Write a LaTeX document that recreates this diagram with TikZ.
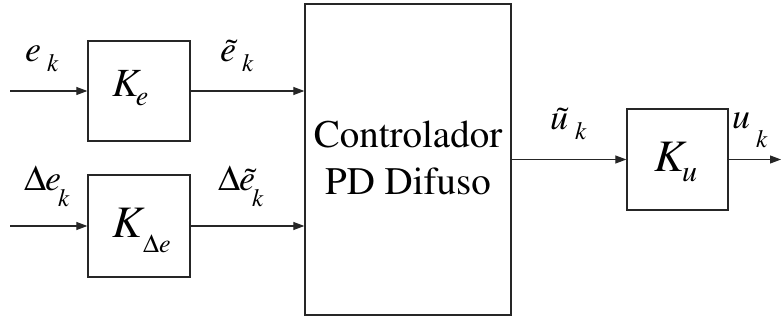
\documentclass[tikz,border=0pt]{standalone}
\usepackage[T1]{fontenc}
\usepackage{mathptmx}
\usetikzlibrary{arrows.meta}
\newcommand\bigt[1]{{\fontsize{36}{36}\selectfont #1}}
\newcommand\smt[1]{{\fontsize{25}{25}\selectfont #1}}
\newcommand\mydelta{\ensuremath{\Delta}}
\begin{document}
\begin{tikzpicture}[x=1pt,y=-1pt,
  blk/.style={draw=black!85, line width=1.3pt, fill=white, inner sep=0pt},
  sig/.style={line width=1.1pt, draw=black!85, -{Triangle[length=11pt,width=8pt]}},
  lbl/.style={anchor=base west, inner sep=0pt, font=\itshape}]
\useasboundingbox (0,0) rectangle (782,320);
\node[blk, minimum width=102pt, minimum height=100pt] (ke) at (139,91) {};
\node[blk, minimum width=102pt, minimum height=102pt] (kde) at (139,226) {};
\node[blk, minimum width=206pt, minimum height=311pt] (ctrl) at (408,159.5) {};
\node[blk, minimum width=101pt, minimum height=101pt] (ku) at (677.5,159.5) {};

\coordinate (in1) at (10,91);
\coordinate (in2) at (10,226);
\coordinate (out) at (781,159.5);

\draw[sig] (in1) -- (ke.west);
\draw[sig] (in2) -- (kde.west);
\draw[sig] (ke.east) -- (ke.east -| ctrl.west);
\draw[sig] (kde.east) -- (kde.east -| ctrl.west);
\draw[sig] (ctrl.east) -- (ku.west);
\draw[sig] (ku.east) -- (out);

% labels
\node[lbl] (lek) at (25,62) {\bigt{e}\hspace{6pt}\raisebox{-10pt}{\smt{k}}};
\node[lbl] (ltek) at (220,62) {\bigt{\~{e}}\hspace{6pt}\raisebox{-10pt}{\smt{k}}};
\node[lbl] (ldek) at (24,191) {\bigt{\mydelta}\kern-1pt\bigt{e}\kern-3pt\raisebox{-16pt}{\smt{k}}};
\node[lbl] (ldtek) at (218,191) {\bigt{\mydelta}\kern-1pt\bigt{\~{e}}\kern-3pt\raisebox{-16pt}{\smt{k}}};
\node[lbl] (ltuk) at (550,130) {\bigt{\~{u}}\hspace{7pt}\raisebox{-10pt}{\smt{k}}};
\node[lbl] (luk) at (732,129) {\bigt{u}\hspace{6pt}\raisebox{-19pt}{\smt{k}}};

\node[lbl] (lke) at (112,97) {{\fontsize{40}{40}\selectfont K}\kern-3pt\raisebox{-9pt}{\fontsize{28}{28}\selectfont e}};
\node[lbl] (lkde) at (112,238) {{\fontsize{45}{45}\selectfont K}\hspace{1pt}\raisebox{-15pt}{\fontsize{26}{26}\selectfont \mydelta e}};
\node[lbl] (lku) at (654,172) {{\fontsize{45}{45}\selectfont K}\kern-2pt\raisebox{-10pt}{\fontsize{30}{30}\selectfont u}};

\node[anchor=base, inner sep=0pt, font=\fontsize{39}{39}\selectfont] (c1) at (408,148) {Controlador};
\node[anchor=base, inner sep=0pt, font=\fontsize{39}{39}\selectfont] (c2) at (408,195) {PD Difuso};
\end{tikzpicture}
\end{document}
